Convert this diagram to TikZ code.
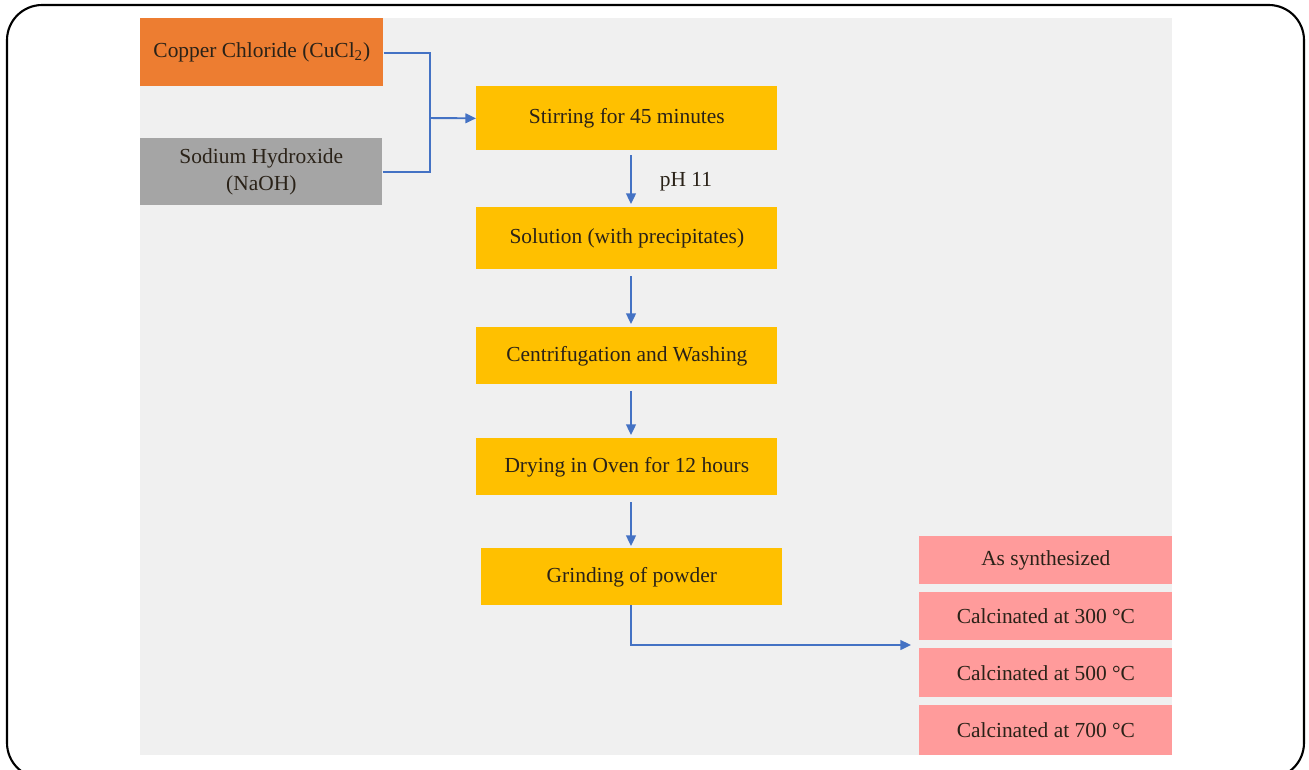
\documentclass[tikz,border=0pt]{standalone}
\usepackage{fontspec}
\setmainfont{Liberation Serif}
\usetikzlibrary{arrows.meta}
\definecolor{orangebox}{HTML}{ED7D31}
\definecolor{graybox}{HTML}{A5A5A5}
\definecolor{goldbox}{HTML}{FFC000}
\definecolor{pinkbox}{HTML}{FF9B9B}
\definecolor{panel}{HTML}{F0F0F0}
\definecolor{arrowblue}{HTML}{4472C4}
\definecolor{txt}{HTML}{2A2218}
\tikzset{
  box/.style={draw=none, inner sep=0pt, align=center, text=txt, font=\fontsize{12.2}{15}\selectfont},
  flow/.style={draw=arrowblue, line width=1.1pt, -{Triangle[length=6pt,width=5.5pt]}},
  link/.style={draw=arrowblue, line width=1.1pt},
}
\begin{document}
\begin{tikzpicture}[x=0.02cm,y=-0.02cm]
\useasboundingbox (0,0) rectangle (1309,769);
\clip (0,0) rectangle (1309,769);
\draw[line width=1.2pt, rounded corners=20pt] (7,5) rectangle (1304,778);
\fill[panel] (140,18) rectangle (1172,755);
% input boxes
\node[box, fill=orangebox, minimum width=243*0.02cm, minimum height=68*0.02cm, anchor=north west] (cu) at (140,18) {Copper Chloride (CuCl\textsubscript{2})};
\node[box, fill=graybox, minimum width=242*0.02cm, minimum height=67*0.02cm, anchor=north west] (na) at (140,138) {Sodium Hydroxide\\(NaOH)};
% process boxes
\node[box, fill=goldbox, minimum width=301*0.02cm, minimum height=64*0.02cm, anchor=north west] (stir) at (476,86) {Stirring for 45 minutes};
\node[box, fill=goldbox, minimum width=301*0.02cm, minimum height=62*0.02cm, anchor=north west] (sol) at (476,207) {Solution (with precipitates)};
\node[box, fill=goldbox, minimum width=301*0.02cm, minimum height=57*0.02cm, anchor=north west] (cent) at (476,327) {Centrifugation and Washing};
\node[box, fill=goldbox, minimum width=301*0.02cm, minimum height=57*0.02cm, anchor=north west] (dry) at (476,438) {Drying in Oven for 12 hours};
\node[box, fill=goldbox, minimum width=301*0.02cm, minimum height=57*0.02cm, anchor=north west] (grind) at (481,548) {Grinding of powder};
% output boxes
\node[box, fill=pinkbox, minimum width=253*0.02cm, minimum height=48*0.02cm, anchor=north west] (as) at (919,536) {As synthesized};
\node[box, fill=pinkbox, minimum width=253*0.02cm, minimum height=48*0.02cm, anchor=north west] (c3) at (919,592) {Calcinated at 300 °C};
\node[box, fill=pinkbox, minimum width=253*0.02cm, minimum height=49*0.02cm, anchor=north west] (c5) at (919,648) {Calcinated at 500 °C};
\node[box, fill=pinkbox, minimum width=253*0.02cm, minimum height=50*0.02cm, anchor=north west] (c7) at (919,705) {Calcinated at 700 °C};
% connectors
\coordinate (j) at (430,118);
\draw[link] (cu.east |- 0,53) -| (j);
\draw[link] (na.east) -| (j);
\draw[flow] (j) -- (stir.west);
\draw[flow] (631,155) -- (631,204);
\node[box] (ph) at (686,182) {pH 11};
\draw[flow] (631,276) -- (631,324);
\draw[flow] (631,391) -- (631,435);
\draw[flow] (631,502) -- (631,546);
\coordinate (out) at (911,645);
\draw[flow] (631,605) |- (out);
\end{tikzpicture}
\end{document}
